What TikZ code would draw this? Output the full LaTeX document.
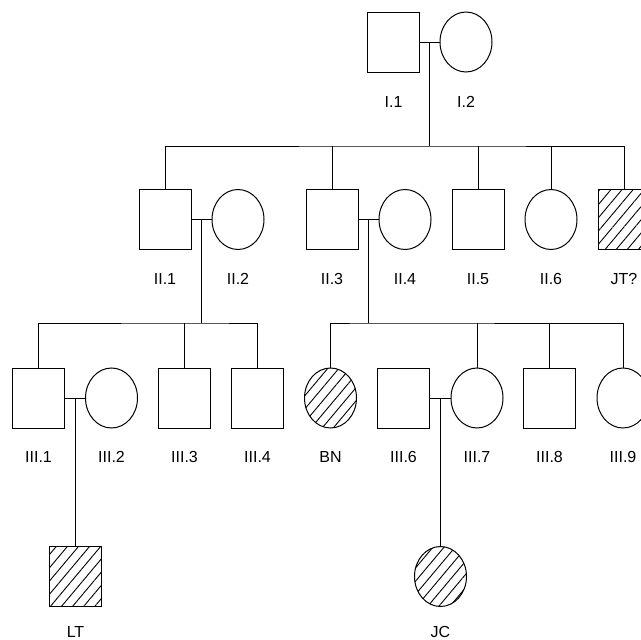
\documentclass[tikz,border=0pt]{standalone}
\usepackage{fontspec}
\setmainfont{Liberation Sans}
\usepackage{tikz}
\usetikzlibrary{shapes.geometric}
\usetikzlibrary{patterns.meta}
\usetikzlibrary{positioning}
\tikzstyle{Male}=[rectangle,draw=black,line width=1pt,inner sep=0pt,
minimum width=52pt,minimum height=60pt]
\tikzstyle{Female}=[ellipse,draw=black,line width=1pt,inner sep=0pt,
minimum width=52pt,minimum height=60pt]
\tikzstyle{Affected}=[pattern={Lines[angle=50,distance=8.5pt,line width=0.9pt]}]
\tikzstyle{Edge}=[draw=black,line width=1pt]
\tikzstyle{Label}=[inner sep=0pt,font=\fontsize{16}{19}\selectfont]
\begin{document}
\begin{tikzpicture}[x=1pt,y=-1pt]
            \useasboundingbox(0,0)rectangle(641,640);
            \node[Male](I1)at(393.5,42){};
            \node[Female](I2)at(466,42){};
            \node[Male](II1)at(165,219.5){};
            \node[Female](II2)at(238,219.5){};
            \node[Male](II3)at(332,219.5){};
            \node[Female](II4)at(405,219.5){};
            \node[Male](II5)at(478,219.5){};
            \node[Female](II6)at(551,219.5){};
            \node[Male,Affected](JT)at(624,219.5){};
            \node[Male](III1)at(38.5,398){};
            \node[Female](III2)at(111.5,398){};
            \node[Male](III3)at(184.5,398){};
            \node[Male](III4)at(257.5,398){};
            \node[Female,Affected](BN)at(330.5,398){};
            \node[Male](III6)at(403.5,398){};
            \node[Female](III7)at(477,398){};
            \node[Male](III8)at(549.5,398){};
            \node[Female](III9)at(623,398){};
            \node[Male,Affected](LT)at(75.5,576.5){};
            \node[Female,Affected](JC)at(440.5,576.5){};
            \node[Label,below=24pt of I1]{I.1};
            \node[Label,below=24pt of I2]{I.2};
            \node[Label,below=23pt of II1]{II.1};
            \node[Label,below=23pt of II2]{II.2};
            \node[Label,below=23pt of II3]{II.3};
            \node[Label,below=23pt of II4]{II.4};
            \node[Label,below=23pt of II5]{II.5};
            \node[Label,below=23pt of II6]{II.6};
            \node[Label,below=23pt of JT]{JT?};
            \node[Label,below=23pt of III1]{III.1};
            \node[Label,below=23pt of III2]{III.2};
            \node[Label,below=23pt of III3]{III.3};
            \node[Label,below=23pt of III4]{III.4};
            \node[Label,below=23pt of BN]{BN};
            \node[Label,below=23pt of III6]{III.6};
            \node[Label,below=23pt of III7]{III.7};
            \node[Label,below=23pt of III8]{III.8};
            \node[Label,below=23pt of III9]{III.9};
            \node[Label,below=19pt of LT]{LT};
            \node[Label,below=19pt of JC]{JC};
            \coordinate(m1)at(429.5,42);
            \coordinate(m2)at(201.5,219.5);
            \coordinate(m3)at(368.5,219.5);
            \coordinate(m4)at(75.5,398);
            \coordinate(m5)at(440.5,398);
            \coordinate(s1)at(429.5,146);
            \coordinate(s2)at(201.5,323);
            \coordinate(s3)at(368.5,323);
            \draw[Edge](I1)--(I2);
            \draw[Edge](II1)--(II2);
            \draw[Edge](II3)--(II4);
            \draw[Edge](III1)--(III2);
            \draw[Edge](III6)--(III7);
            \draw[Edge](m1)--(s1);
            \draw[Edge](II1.north)|-(s1)-|(JT.north);
            \draw[Edge](II3.north)--(II3.north|-s1);
            \draw[Edge](II5.north)--(II5.north|-s1);
            \draw[Edge](II6.north)--(II6.north|-s1);
            \draw[Edge](m2)--(s2);
            \draw[Edge](III1.north)|-(s2)-|(III4.north);
            \draw[Edge](III3.north)--(III3.north|-s2);
            \draw[Edge](m3)--(s3);
            \draw[Edge](BN.north)|-(s3)-|(III9.north);
            \draw[Edge](III7.north)--(III7.north|-s3);
            \draw[Edge](III8.north)--(III8.north|-s3);
            \draw[Edge](m4)--(LT.north);
            \draw[Edge](m5)--(JC.north);
        \end{tikzpicture}
\end{document}
